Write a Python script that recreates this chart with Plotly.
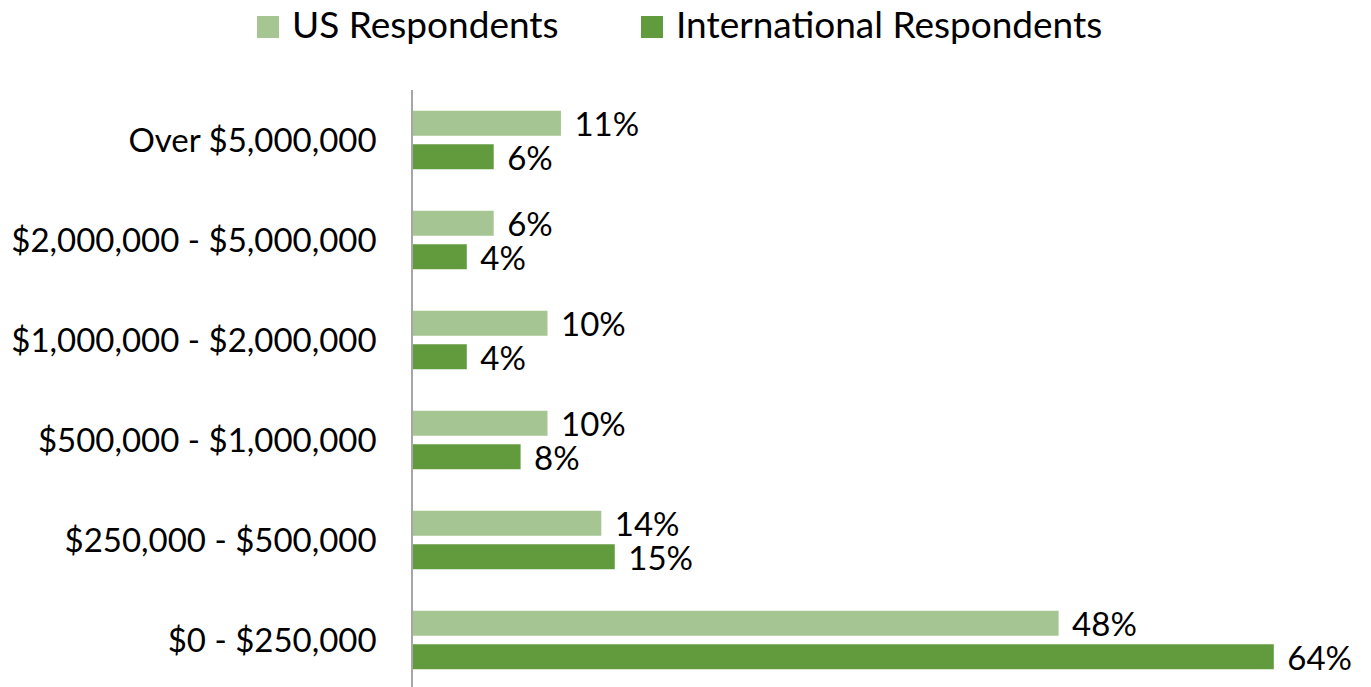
import plotly.graph_objects as go

categories = ["$0 - $250,000", "$250,000 - $500,000", "$500,000 - $1,000,000",
              "$1,000,000 - $2,000,000", "$2,000,000 - $5,000,000", "Over $5,000,000"]
us_values = [48, 14, 10, 10, 6, 11]
intl_values = [64, 15, 8, 4, 4, 6]
series_names = ["US Respondents", "International Respondents"]
colors = {"US Respondents": "#A5C592", "International Respondents": "#629A3E"}

FONT = "Lato, Calibri, Carlito, sans-serif"
OFF = 8  # page body margin offset
W, H = 1371 - OFF, 687 - OFF
ML, MT = 413 - OFF, 90 - OFF
PW, PH = W - ML, H - MT


def px_x(px):
    return (px - OFF - ML) / PW


def px_y(py):
    return (H - (py - OFF)) / PH


fig = go.Figure()
pad = "\u00a0\u200a"
# International first so that it sits below US within each group
fig.add_trace(go.Bar(
    y=categories, x=intl_values, orientation="h", name=series_names[1],
    marker=dict(color=colors[series_names[1]], line=dict(width=0)),
    text=[f"{pad}{v}%" for v in intl_values], textposition="outside",
    textfont=dict(family=FONT, size=33, color="#000000"),
    constraintext="none", cliponaxis=False, showlegend=False, hoverinfo="skip"))
fig.add_trace(go.Bar(
    y=categories, x=us_values, orientation="h", name=series_names[0],
    marker=dict(color=colors[series_names[0]], line=dict(width=0)),
    text=[f"{pad}{v}%" for v in us_values], textposition="outside",
    textfont=dict(family=FONT, size=33, color="#000000"),
    constraintext="none", cliponaxis=False, showlegend=False, hoverinfo="skip"))

# manual legend (large square swatches)
legend_items = [(series_names[0], 257, 291), (series_names[1], 641, 675)]
shapes = []
annotations = []
for name, sq_x, tx in legend_items:
    shapes.append(dict(type="rect", xref="paper", yref="paper",
                       x0=px_x(sq_x), x1=px_x(sq_x + 22),
                       y0=px_y(38), y1=px_y(16),
                       fillcolor=colors[name], line=dict(width=0)))
    annotations.append(dict(xref="paper", yref="paper", x=px_x(tx), y=px_y(24),
                            xanchor="left", yanchor="middle", showarrow=False,
                            borderpad=0,
                            text=name, font=dict(family=FONT, size=37, color="#000000")))

fig.update_layout(
    width=W, height=H,
    margin=dict(l=ML, r=0, t=MT, b=0),
    barmode="group", bargap=0.326, bargroupgap=0.258,
    plot_bgcolor="white", paper_bgcolor="white",
    showlegend=False,
    shapes=shapes, annotations=annotations,
    xaxis=dict(range=[0, PW / 13.45], showgrid=False, zeroline=False,
               showticklabels=False, showline=False, ticks=""),
    yaxis=dict(type="category", categoryorder="array", categoryarray=categories,
               range=[-0.47, 5.5], showgrid=False, zeroline=False,
               showline=True, linecolor="#A6A6A6", linewidth=1.5, ticks="",
               ticklabelstandoff=28,
               tickfont=dict(family=FONT, size=33, color="#000000")),
)

fig.write_html("out.html")
